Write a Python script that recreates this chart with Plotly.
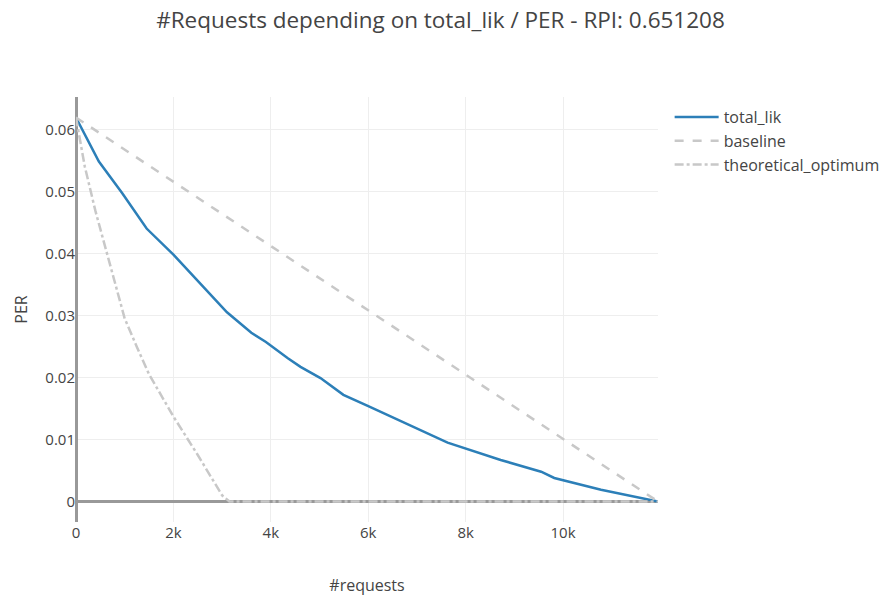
import plotly.graph_objects as go

# Model ranking curve: PER remaining after a number of requests
lik_requests = [0, 470, 950, 1450, 2000, 2550, 3100, 3600, 3900, 4350, 4610, 5020,
                5490, 5990, 6670, 7630, 8720, 9550, 9820, 10780, 11950]
lik_per = [0.0619, 0.0548, 0.0497, 0.0440, 0.0398, 0.0352, 0.0305, 0.0272, 0.0257,
           0.0231, 0.0217, 0.0199, 0.0172, 0.0154, 0.0129, 0.0095, 0.0067, 0.0048,
           0.0038, 0.0019, 0.0]

# Random-order baseline
baseline_requests = [0, 11950]
baseline_per = [0.0619, 0.0]

# Oracle ordering
optimum_requests = [0, 180, 400, 600, 800, 1000, 1250, 1500, 2000, 2500, 3000, 3150, 11950]
optimum_per = [0.0619, 0.0540, 0.0468, 0.0410, 0.0350, 0.0295, 0.0249, 0.0205,
               0.0137, 0.0075, 0.0010, 0.0, 0.0]

fig = go.Figure()
fig.add_trace(go.Scatter(x=lik_requests, y=lik_per, mode="lines", name="total_lik",
                         line=dict(color="#2c7fb8", width=2.5)))
fig.add_trace(go.Scatter(x=baseline_requests, y=baseline_per, mode="lines", name="baseline",
                         line=dict(color="#c8c8c8", width=2.5, dash="dash")))
fig.add_trace(go.Scatter(x=optimum_requests, y=optimum_per, mode="lines",
                         name="theoretical_optimum",
                         line=dict(color="#c8c8c8", width=2.5, dash="dashdot")))

fig.update_layout(
    width=881, height=597,
    template="none",
    paper_bgcolor="white", plot_bgcolor="white",
    font=dict(family="Open Sans, verdana, arial, sans-serif", size=15, color="#444"),
    title=dict(text="#Requests depending on total_lik / PER - RPI: 0.651208",
               x=0.5, xref="container", y=1 - 20 / 597, yref="container",
               yanchor="middle", font=dict(size=22.5)),
    margin=dict(l=76, r=223, t=97, b=75, autoexpand=False),
    showlegend=True,
    legend=dict(font=dict(size=16), bgcolor="rgba(0,0,0,0)", itemwidth=44,
                y=0.993, yanchor="top"),
    xaxis=dict(title=dict(text="#requests", standoff=38, font=dict(size=16)),
               showgrid=True, gridcolor="#eeeeee",
               zeroline=True, zerolinecolor="#999999", zerolinewidth=3,
               showline=False, ticks="", tickvals=[0, 2000, 4000, 6000, 8000, 10000],
               ticktext=["0", "2k", "4k", "6k", "8k", "10k"], automargin=False),
    yaxis=dict(title=dict(text="PER", standoff=13, font=dict(size=16)),
               showgrid=True, gridcolor="#eeeeee",
               zeroline=True, zerolinecolor="#999999", zerolinewidth=3,
               showline=False, ticks="", dtick=0.01, automargin=False,
               range=[-0.0033, 0.0652]),
)
fig.update_xaxes(range=[0, 11950])

fig.write_html("out.html")
